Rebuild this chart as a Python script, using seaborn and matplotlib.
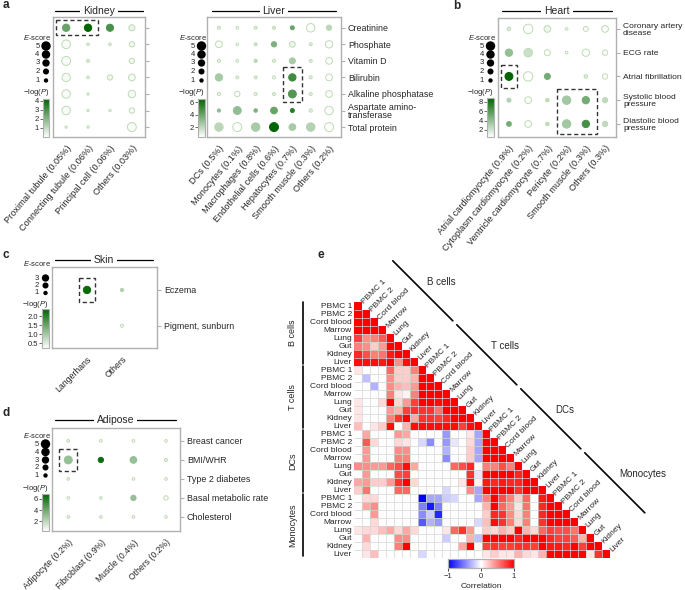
import numpy as np
import pandas as pd
import matplotlib
matplotlib.use("Agg")
import matplotlib.pyplot as plt
import seaborn as sns
from matplotlib.colors import LinearSegmentedColormap, Normalize
from matplotlib.patches import Rectangle
from matplotlib.collections import LineCollection
from matplotlib.cm import ScalarMappable

sns.set_theme(style="white")
plt.rcParams["font.family"] = ["Liberation Sans", "DejaVu Sans"]
plt.rcParams["mathtext.fontset"] = "custom"
plt.rcParams["mathtext.it"] = "Liberation Sans:italic"
plt.rcParams["mathtext.rm"] = "Liberation Sans"

nan = np.nan

# ---------------- data ----------------
kidney_cells = ["Proximal tubule (0.05%)", "Connecting tubule (0.06%)",
                "Principal cell (0.06%)", "Others (0.03%)"]
liver_cells = ["DCs (0.5%)", "Monocytes (0.1%)", "Macrophages (0.8%)",
               "Endothelial cells (0.6%)", "Hepatocytes (0.7%)",
               "Smooth muscle (0.3%)", "Others (0.2%)"]
liver_traits = ["Creatinine", "Phosphate", "Vitamin D", "Bilirubin",
                "Alkaline phosphatase", "Aspartate amino-\ntransferase",
                "Total protein"]
kidney_e = [[3.0, 3.0, 2.8, 2.0],
            [4.2, 0.3, 0.3, 1.5],
            [4.5, 0.4, nan, 1.5],
            [3.8, 0.3, 1.5, 2.5],
            [4.0, 0.2, nan, 3.0],
            [4.0, 0.2, 0.2, 1.5],
            [0.2, 0.2, nan, 4.5]]
kidney_p = [[2.5, 4.2, 3.0, 0.3],
            [0.1, 0.3, 0.3, 0.2],
            [0.1, 0.5, nan, 0.2],
            [0.1, 0.3, 0.2, 0.1],
            [0.1, 0.2, nan, 0.1],
            [0.1, 0.2, 0.2, 0.1],
            [0.2, 0.2, nan, 0.1]]
liver_e = [[0.4, 0.3, 0.4, 0.4, 0.8, 4.0, 1.5],
           [2.5, 0.3, 0.4, 1.5, 1.8, 0.4, 3.0],
           [0.4, 0.3, 0.5, 0.4, 2.0, 0.4, 2.5],
           [3.0, 0.4, 0.4, 0.4, 3.0, 0.4, 2.5],
           [0.4, 1.5, 0.4, 0.4, 3.5, 0.4, 2.5],
           [0.5, 3.5, 0.6, 2.5, 0.8, 0.5, 4.0],
           [4.0, 4.5, 4.0, 4.5, 2.5, 4.0, 4.5]]
liver_p = [[1.0, 0.5, 1.0, 1.2, 4.0, 0.2, 2.0],
           [0.3, 0.5, 1.5, 3.5, 0.8, 1.0, 0.2],
           [0.8, 0.3, 2.0, 1.0, 2.5, 1.0, 0.2],
           [2.5, 0.8, 1.0, 0.5, 5.0, 0.8, 0.3],
           [0.8, 0.4, 0.8, 1.0, 4.5, 0.8, 0.3],
           [3.0, 3.0, 3.5, 4.0, 5.5, 1.0, 0.3],
           [2.0, 0.3, 2.5, 6.5, 2.5, 2.2, 0.3]]

heart_cells = ["Atrial cardiomyocyte (0.9%)", "Cytoplasm cardiomyocyte (0.2%)",
               "Ventricle cardiomyocyte (0.7%)", "Pericyte (0.2%)",
               "Smooth muscle (0.3%)", "Others (0.3%)"]
heart_traits = ["Coronary artery\ndisease", "ECG rate", "Atrial fibrillation",
                "Systolic blood\npressure", "Diastolic blood\npressure"]
heart_e = [[0.6, 5.0, 2.5, 0.3, 1.3, 2.5],
           [3.0, 4.0, 2.0, 0.3, 3.0, 1.5],
           [3.5, 5.0, 2.0, nan, 0.6, 1.5],
           [0.8, 2.5, 0.6, 4.0, 3.0, 1.5],
           [1.2, 2.5, 0.6, 4.0, 3.0, 1.5]]
heart_p = [[1.5, 0.3, 1.0, 0.3, 0.4, 0.6],
           [4.0, 2.2, 0.5, 0.3, 0.5, 0.2],
           [9.0, 0.3, 5.0, nan, 1.5, 0.2],
           [3.0, 0.2, 2.5, 3.5, 5.0, 2.5],
           [5.0, 0.3, 2.5, 3.5, 6.5, 2.5]]

skin_cells = ["Langerhans", "Others"]
skin_traits = ["Eczema", "Pigment, sunburn"]
skin_e = [[3.0, 0.5], [nan, 0.4]]
skin_p = [[2.3, 0.9], [nan, 0.3]]

adipose_cells = ["Adipocyte (0.2%)", "Fibroblast (0.9%)", "Muscle (0.4%)", "Others (0.2%)"]
adipose_traits = ["Breast cancer", "BMI/WHR", "Type 2 diabetes",
                  "Basal metabolic rate", "Cholesterol"]
adipose_e = [[0.3, 0.3, 0.3, 0.3],
             [3.5, 1.5, 2.5, 0.4],
             [0.3, nan, 0.3, 0.3],
             [0.3, 0.3, 1.5, 1.0],
             [0.3, 0.3, 0.3, 0.3]]
adipose_p = [[0.5, 0.3, 0.3, 0.2],
             [3.0, 6.5, 3.0, 0.8],
             [0.5, nan, 0.3, 0.3],
             [0.3, 0.5, 3.0, 0.3],
             [0.6, 0.4, 0.4, 0.3]]

tissues = ["PBMC 1", "PBMC 2", "Cord blood", "Marrow", "Lung", "Gut", "Kidney", "Liver"]
groups = ["B cells", "T cells", "DCs", "Monocytes"]
corr_rows = [
    [1],
    [1, 1],
    [1, 1, 1],
    [1, 1, 1, 1],
    [0.75, 0.45, 0.5, 0.65, 1],
    [0.5, 0.45, 0.2, 0.4, 1, 1],
    [0.85, 0.7, 0.5, 0.55, 0.9, 1, 1],
    [0.95, 0.95, 0.95, 0.9, 1, 0.45, 0.95, 1],
    [0.1, 0, 0, 0, 0.6, 0.2, 0.2, 0.5, 1],
    [0, -0.25, 0, 0, 0.45, 0.2, 0.2, 0.3, 1, 1],
    [0, 0, -0.3, 0, 0.45, 0.3, 0.25, 0.4, 1, 1, 1],
    [0, 0, 0, 0, 0.5, 0.1, 0.05, 0.5, 1, 1, 1, 1],
    [0.1, 0, 0, 0.15, 1, 0.15, 0.4, 0.75, 1, 1, 0.95, 1, 1],
    [0.1, 0, 0, 0, 0.4, 0.3, 0.75, 0.8, 0.8, 0.8, 0.55, 1, 1, 1],
    [0.1, 0, 0, 0, 0.5, 0.8, 1, 0.35, 0.8, 0.8, 0.75, 0.85, 1, 1, 1],
    [0.25, 0, 0.1, 0.2, 0.95, 0, 0.3, 0.95, 0.95, 0.95, 0.95, 0.95, 0.95, 0.75, 0.95, 1],
    [0, 0.35, 0, 0, 0, 0.4, 0.35, 0, 0, 0, 0, -0.4, 0, 0, 0.1, -0.35, 1],
    [0, 0.65, 0.15, 0, 0, 0.15, 0.1, 0, -0.15, -0.45, 0, -0.4, -0.1, 0, 0.15, -0.35, 1, 1],
    [0, 0.4, 0, 0, 0, 0.45, 0.45, 0, 0, 0, 0, -0.3, 0, 0, 0.2, -0.35, 1, 1, 1],
    [0, 0.4, 0, 0, 0, 0.5, 0.5, 0, 0, 0, 0, -0.45, 0, 0, 0.2, -0.35, 1, 1, 1, 1],
    [0.45, 0.45, 0.4, 0.4, 0.6, 0.7, 0.95, 0.35, 0, 0, 0, 0, 0.6, 0.7, 0.85, 0,
     0.5, 0.5, 0.7, 0.5, 1],
    [0, 0.4, 0, 0, 0, 0.7, 0.75, 0, 0, 0, 0, 0, 0, 0, 0.8, -0.1, 1, 1, 1, 1, 0.85, 1],
    [0.35, 0.4, 0.2, 0.2, 0.4, 0.8, 1, 0.15, 0, 0, 0, 0, 0, 0.1, 0.95, 0.05,
     0.9, 0.85, 0.9, 0.85, 0.85, 1, 1],
    [0.2, 0.55, 0, 0, 0, 0.6, 0.6, 0, 0, 0, 0, -0.15, 0, 0, 0.45, -0.35,
     1, 1, 1, 1, 0.8, 1, 1, 1],
    [0, 0.15, 0.15, 0, 0, 0, 0, 0, -1, -0.35, -0.35, -0.2, -0.15, 0, 0, -0.35,
     0.5, 1, 0.7, 0.5, 0.2, 0.6, 0, 0.9, 1],
    [0, 0.35, 0.45, 0, 0, 0, 0, 0, -0.5, -0.9, -0.5, 0, 0, 0, 0, 0,
     0.3, 1, 0.6, 0.4, 0.1, 0.55, 0, 0.85, 1, 1],
    [0, 0, 0.4, 0, 0, 0, 0, 0, -0.45, -0.2, -0.85, 0, 0, 0, 0, 0,
     0.2, 0.85, 0.8, 0.45, 0.15, 0.5, 0, 0.85, 1, 1, 1],
    [0, 0, 0.15, 0, 0, 0, 0, 0, -0.65, -0.3, -0.4, 0, 0, 0, 0, -0.15,
     0.25, 0.95, 0.8, 0.5, 0.15, 0.5, 0, 0.8, 1, 1, 1, 1],
    [0.1, 0.15, 0.15, 0.25, 0.35, 0.15, 0.35, 0.15, 0, 0, 0, 0.1, 0.6, 0.8, 0.4, 0,
     0.2, 0.15, 0.3, 0.2, 1, 0.3, 0.15, 0.6, 0.75, 0.7, 0.7, 0.55, 1],
    [0, 0.3, 0, 0, 0, 0.45, 0.45, 0, 0, 0, 0, -0.2, 0, 0, 0.3, -0.25,
     1, 1, 1, 1, 0.85, 1, 1, 1, 0.85, 0.75, 0.75, 0.65, 0.3, 1],
    [0, 0.15, 0, 0, 0, 0.5, 1, 0, 0, 0, 0, 0, 0, 0.35, 1, 0,
     0.75, 0.8, 0.75, 0.75, 0.8, 0.8, 0.75, 1, 0.9, 0.9, 0.85, 1, 0.75, 1, 1],
    [0, 0.1, 0.25, 0, 0, 0, 0, 0, -0.15, 0, 0, 0, 0, 0, 0, 0,
     0.1, 0.2, 0.1, 0.1, 0.3, 0.15, 0.1, 0.3, 1, 1, 1, 1, 1, 0.1, 0.8, 1],
]

# ---------------- layout helpers ----------------
W, H = 685, 590
fig = plt.figure(figsize=(W / 100, H / 100), dpi=100)
ov = fig.add_axes([0, 0, 1, 1])
ov.set_xlim(0, W)
ov.set_ylim(H, 0)
ov.axis("off")


def box(l, t, r, b):
    return fig.add_axes([l / W, 1 - b / H, (r - l) / W, (b - t) / H])


green = LinearSegmentedColormap.from_list("grn", ["#ffffff", "#006400"])
light = np.array([0.74, 0.86, 0.70])
spine_c = "#b0b0b0"
SIZES = (1, 46)


def bubble(ax, cells, traits, e, p, prange, xlim, ylim, show_ylab=True, boxes=(),
           yfs=6.4, xrot=50, xfs=6.6):
    recs = []
    for i in range(len(traits)):
        for j in range(len(cells)):
            if not np.isnan(e[i][j]):
                recs.append({"x": j, "y": i, "E": e[i][j], "P": p[i][j]})
    df = pd.DataFrame(recs)
    sns.scatterplot(data=df, x="x", y="y", size="E", hue="P", sizes=SIZES,
                    size_norm=(0, 5), palette=green, hue_norm=prange,
                    legend=False, ax=ax, linewidth=0.7, zorder=3)
    coll = ax.collections[0]
    fc = coll.get_facecolors()
    coll.set_edgecolors(np.minimum(fc[:, :3], light))
    ax.set_xlim(*xlim)
    ax.set_ylim(*ylim)
    ax.set_xlabel("")
    ax.set_ylabel("")
    ax.set_xticks(range(len(cells)))
    ax.set_xticklabels(cells, rotation=xrot, ha="right", rotation_mode="anchor", fontsize=xfs)
    ax.yaxis.tick_right()
    ax.set_yticks(range(len(traits)))
    if show_ylab:
        ax.set_yticklabels(traits, fontsize=yfs, linespacing=0.95)
    else:
        ax.set_yticklabels([])
    ax.tick_params(length=3, width=0.8, color=spine_c, pad=2)
    for s in ax.spines.values():
        s.set_color(spine_c)
        s.set_linewidth(1.0)
    for (x0, y0, w, h) in boxes:
        ax.add_patch(Rectangle((x0, y0), w, h, fill=False, ls=(0, (3, 2)),
                               lw=1.0, ec="#333333", zorder=4))


def legend(cx, ytxt, evals, eys, ylog, cb, prange, ticks, fmt="%g"):
    ov.text(cx - 9, ytxt, "$E$-score", ha="center", va="center", fontsize=5.5)
    for ev, yy in zip(evals, eys):
        ov.text(cx - 6.5, yy, str(ev), ha="right", va="center", fontsize=5.5)
    ss = SIZES[0] + (SIZES[1] - SIZES[0]) * np.array(evals) / 5
    ov.scatter([cx] * len(evals), eys, s=ss, color="black", lw=0)
    ov.text(cx - 10, ylog, "\u2212log($P$)", ha="center", va="center", fontsize=5.5)
    cax = box(*cb)
    c = fig.colorbar(ScalarMappable(Normalize(*prange), green), cax=cax, ticks=ticks)
    cax.yaxis.set_ticks_position("left")
    cax.yaxis.set_major_formatter(matplotlib.ticker.FormatStrFormatter(fmt))
    cax.tick_params(labelsize=5.5, length=2, width=0.6, pad=1, color="#555555")
    c.outline.set_edgecolor(spine_c)
    c.outline.set_linewidth(0.8)


def title(x0, x1, y, text):
    ov.plot([x0, x1], [y, y], color="black", lw=0.9)
    ov.text((x0 + x1) / 2, y, text, ha="center", va="center", fontsize=7.5,
            bbox=dict(fc="white", ec="none", pad=2))


# ---------------- panel a ----------------
ax_k = box(53, 17, 145, 137)
bubble(ax_k, kidney_cells, liver_traits, kidney_e, kidney_p, (0, 4.2),
       (-0.6, 3.6), (6.6, -0.65), show_ylab=False, boxes=[(-0.46, -0.46, 1.92, 0.92)])
title(55, 143, 11, "Kidney")
legend(46, 37, [5, 4, 3, 2, 1], [46, 54.5, 63, 71.5, 80.5], 92, (43, 99, 49, 137),
       (0, 4.2), [1, 2, 3, 4])

ax_l = box(207, 17, 341, 137)
bubble(ax_l, liver_cells, liver_traits, liver_e, liver_p, (0.4, 6.5),
       (-0.65, 6.65), (6.6, -0.65), boxes=[(3.5, 2.4, 1.0, 2.1)])
title(212, 336, 11, "Liver")
legend(201.5, 37, [5, 4, 3, 2, 1], [46, 54.5, 63, 71.5, 80.5], 92, (198, 99, 205, 137),
       (0.4, 6.5), [2, 4, 6])

# ---------------- panel b ----------------
ax_h = box(498, 18, 616, 137)
bubble(ax_h, heart_cells, heart_traits, heart_e, heart_p, (0.5, 8.8),
       (-0.57, 5.57), (4.55, -0.46),
       boxes=[(-0.4, 1.5, 0.8, 1.0), (2.48, 2.54, 2.09, 1.88)], yfs=6.1)
title(502, 612, 11, "Heart")
legend(490.5, 37, [5, 4, 3, 2, 1], [46, 54.5, 63, 71.5, 80.5], 92, (487, 98, 494, 137),
       (0.5, 8.8), [2, 4, 6, 8])

# ---------------- panel c ----------------
ax_s = box(52, 267, 157, 348)
bubble(ax_s, skin_cells, skin_traits, skin_e, skin_p, (0.25, 2.4),
       (-1, 2), (1.62, -0.64), boxes=[(-0.23, -0.33, 0.46, 0.66)], xrot=45, xfs=6.3)
title(55, 153, 260, "Skin")
legend(45.5, 264, [3, 2, 1], [278, 285.5, 293], 305, (42, 309, 49, 348),
       (0.25, 2.4), [0.5, 1.0, 1.5, 2.0], fmt="%.1f")

# ---------------- panel d ----------------
ax_d = box(52, 428, 180, 531)
bubble(ax_d, adipose_cells, adipose_traits, adipose_e, adipose_p, (0.2, 6.9),
       (-0.5, 3.43), (4.74, -0.68), boxes=[(-0.27, 0.42, 0.54, 1.16)], xrot=45, xfs=6.2)
title(55, 176, 420, "Adipose")
legend(45.5, 436, [5, 4, 3, 2, 1], [444, 452, 460, 467.5, 475.5], 488, (42, 494, 49, 531),
       (0.2, 6.9), [2, 4, 6])

# ---------------- panel e ----------------
n = len(corr_rows)
mat = np.full((n, n), np.nan)
for i, row in enumerate(corr_rows):
    mat[i, :len(row)] = row
labels = tissues * len(groups)

hax = box(354, 302, 610, 558)
cax = box(448, 559, 514, 568)
sns.heatmap(mat, ax=hax, mask=np.isnan(mat), cmap="bwr", vmin=-1, vmax=1,
            linewidths=0, cbar_ax=cax,
            cbar_kws={"orientation": "horizontal", "ticks": [-1, 0, 1]},
            xticklabels=False, yticklabels=labels)
# light grid only inside the lower triangle
segs = [[(0, i), (i, i)] for i in range(1, n)] + [[(j, j), (j, n)] for j in range(1, n)]
hax.add_collection(LineCollection(segs, colors="#d4d4d4", linewidths=0.5))
hax.tick_params(axis="y", length=0, pad=1.5, labelsize=6)
plt.setp(hax.get_yticklabels(), rotation=0)
for k, lab in enumerate(labels):
    hax.text(k + 1.15, k + 0.1, lab, rotation=45, rotation_mode="anchor",
             ha="left", va="center", fontsize=6, clip_on=False)
for g, name in enumerate(groups):
    hax.plot([-6.4, -6.4], [8 * g + 0.05, 8 * g + 7.75], color="black", lw=1.2, clip_on=False)
    hax.text(-7.7, 8 * g + 3.9, name, rotation=90, ha="center", va="center",
             fontsize=6.5, clip_on=False)
    k0 = 8 * g - 0.15
    k1 = 8 * g + 7.35
    hax.plot([k0 + 5, k1 + 5], [k0 - 5, k1 - 5], color="black", lw=1.2, clip_on=False)
    km = (k0 + k1) / 2
    hax.text(km + 5.5, km - 6.1, name, ha="left", va="center", fontsize=7, clip_on=False)

cax.set_xticklabels(["\u22121", "0", "1"])
cax.tick_params(labelsize=5.5, length=2, width=0.6, pad=1.5)
cax.set_xlabel("Correlation", fontsize=6, labelpad=2)
for s in cax.spines.values():
    s.set_visible(True)
    s.set_color(spine_c)
    s.set_linewidth(0.8)

# panel letters
for letter, (x, y) in {"a": (3, 5), "b": (453, 6), "c": (3, 255),
                       "d": (3, 413), "e": (318, 255)}.items():
    ov.text(x, y, letter, fontsize=8.5, fontweight="bold", ha="left", va="center")

fig.savefig("out.png", dpi=100)
